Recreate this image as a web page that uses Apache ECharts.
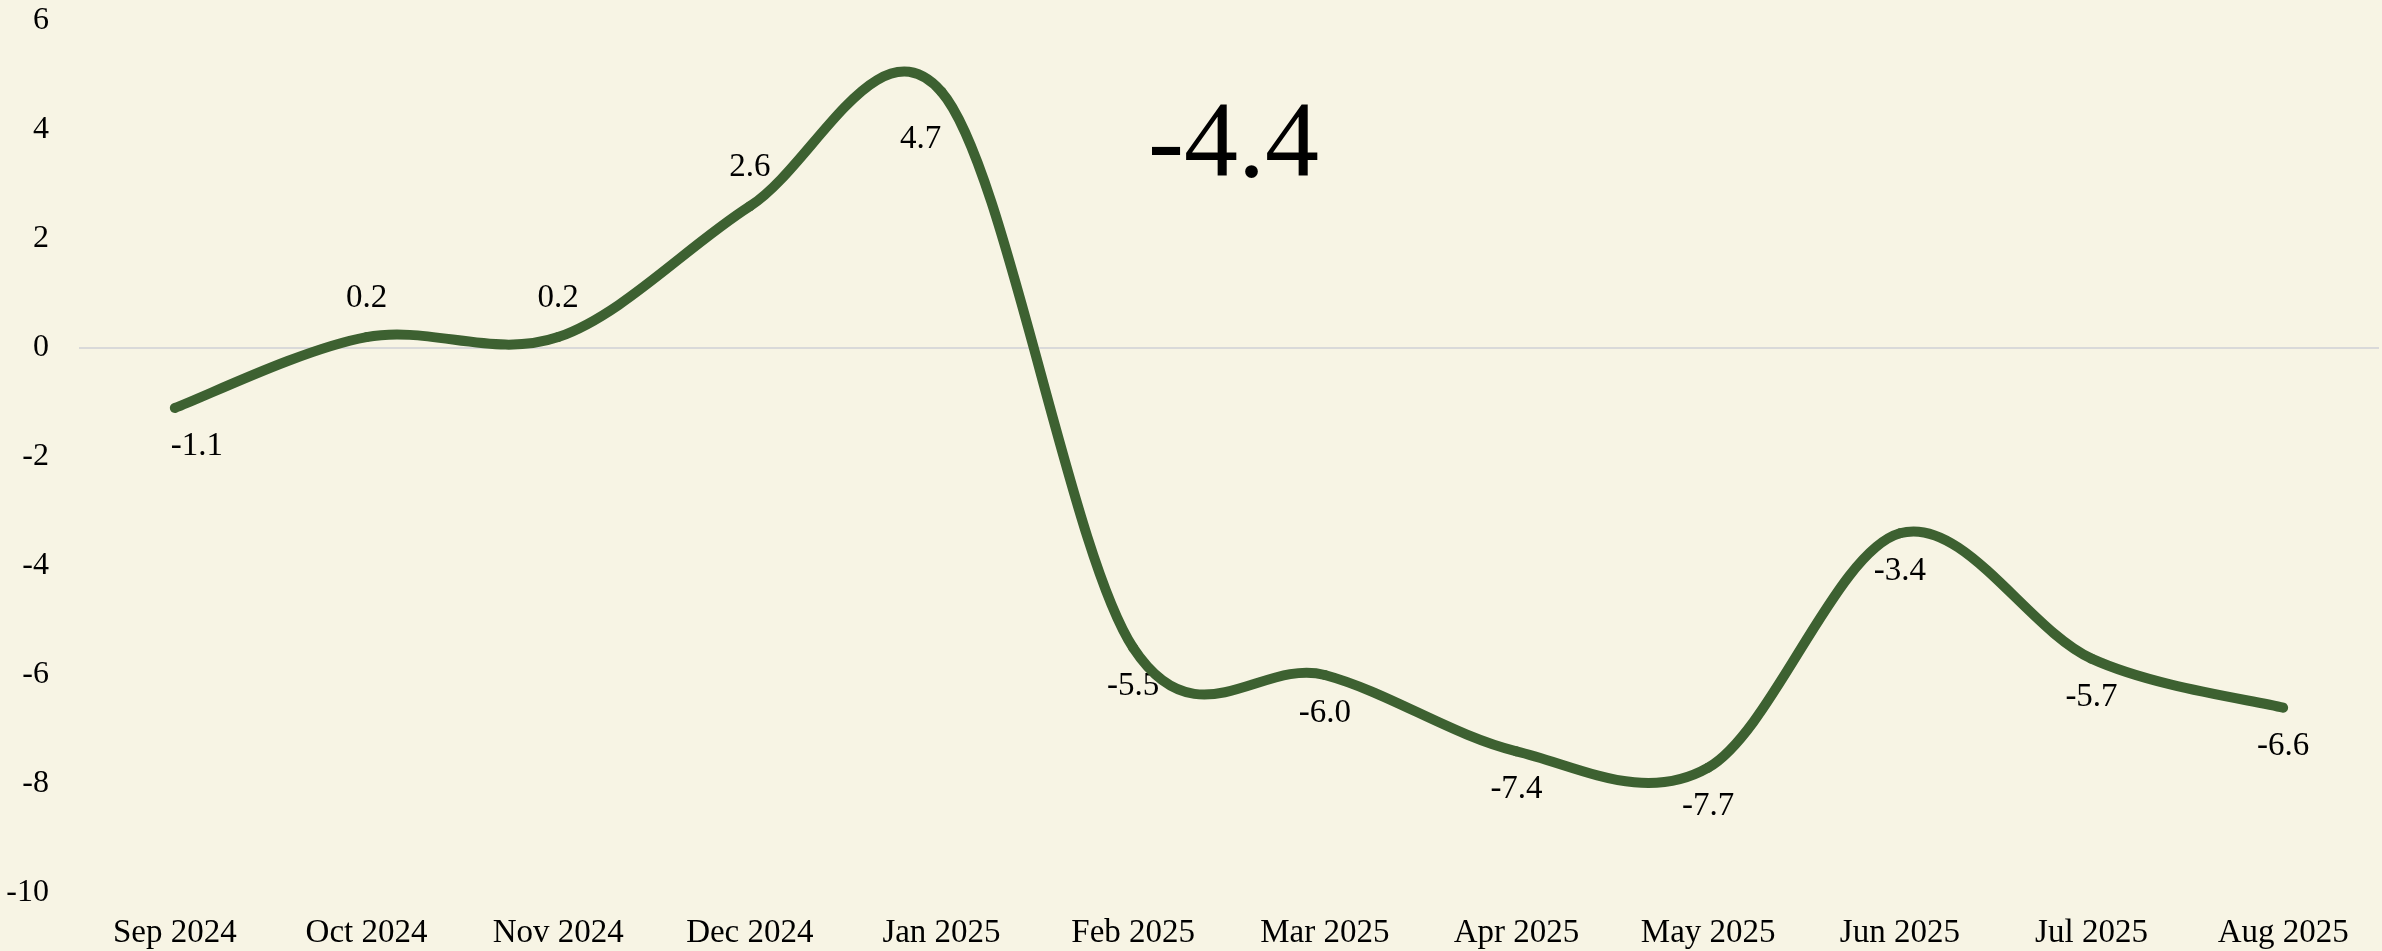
<!DOCTYPE html>
<html>
<head>
<meta charset="utf-8">
<script src="https://cdn.jsdelivr.net/npm/echarts@6/dist/echarts.min.js"></script>
<style>
  html, body { margin: 0; padding: 0; background: #f7f4e4; }
  #main { width: 2382px; height: 951px; }
</style>
</head>
<body>
<div id="main"></div>
<script>
// months on the x axis
const months = ['Sep 2024', 'Oct 2024', 'Nov 2024', 'Dec 2024', 'Jan 2025', 'Feb 2025',
  'Mar 2025', 'Apr 2025', 'May 2025', 'Jun 2025', 'Jul 2025', 'Aug 2025']
// monthly values
const values = [-1.1, 0.2, 0.2, 2.6, 4.7, -5.5, -6.0, -7.4, -7.7, -3.4, -5.7, -6.6]
// where each value label sits
const labelPos = ['bottom', 'top', 'top', 'top', 'bottom', 'bottom',
  'bottom', 'bottom', 'bottom', 'bottom', 'bottom', 'bottom']
// headline figure
const headline = '-4.4'

const serif = '"Liberation Serif", "DejaVu Serif", serif'
const green = '#3d6131'

// office-style smoothed curve: one bezier piece per pair of months
function renderSegment(params, api) {
  const i = params.dataIndex
  const n = values.length
  if (i >= n - 1) return null
  const pt = k => {
    const j = Math.min(Math.max(k, 0), n - 1)
    return api.coord([j, values[j]])
  }
  const p0 = pt(i - 1), p1 = pt(i), p2 = pt(i + 1), p3 = pt(i + 2)
  return {
    type: 'bezierCurve',
    shape: {
      x1: p1[0], y1: p1[1],
      cpx1: p1[0] + (p2[0] - p0[0]) / 6, cpy1: p1[1] + (p2[1] - p0[1]) / 6,
      cpx2: p2[0] - (p3[0] - p1[0]) / 6, cpy2: p2[1] - (p3[1] - p1[1]) / 6,
      x2: p2[0], y2: p2[1]
    },
    style: { stroke: green, lineWidth: 10, fill: null, lineCap: 'round' }
  }
}

let myChart = echarts.init(document.getElementById('main'))

myChart.setOption({
  backgroundColor: '#f7f4e4',
  animation: false,
  grid: { left: 79, right: 3, top: 21, bottom: 58 },
  xAxis: {
    type: 'category',
    data: months,
    boundaryGap: true,
    axisLine: { show: false },
    axisTick: { show: false },
    axisLabel: { color: '#000', fontFamily: serif, fontSize: 33, margin: 24 }
  },
  yAxis: {
    type: 'value',
    min: -10,
    max: 6,
    interval: 2,
    splitLine: { show: false },
    axisLine: { show: false },
    axisTick: { show: false },
    axisLabel: { color: '#000', fontFamily: serif, fontSize: 32, margin: 30 }
  },
  graphic: [{
    type: 'text',
    left: 1148,
    top: 94,
    style: { text: headline, fill: '#000', font: '108px ' + serif }
  }],
  series: [{
    type: 'custom',
    renderItem: renderSegment,
    data: values.map((v, i) => [i, v]),
    encode: { x: 0, y: 1 },
    silent: true,
    z: 4
  }, {
    type: 'line',
    showSymbol: true,
    symbol: 'circle',
    symbolSize: 2,
    itemStyle: { color: 'rgba(0,0,0,0)', borderWidth: 0 },
    lineStyle: { opacity: 0, width: 0 },
    data: values.map((v, i) => ({
      value: v,
      label: {
        position: labelPos[i],
        offset: i === 0 ? [22, 0] : i === 4 ? [-21, 9] : [0, 0]
      }
    })),
    label: {
      show: true,
      color: '#000',
      fontFamily: serif,
      fontSize: 33,
      distance: 21,
      formatter: p => p.value.toFixed(1)
    },
    markLine: {
      silent: true,
      z: 1,
      symbol: 'none',
      label: { show: false },
      lineStyle: { color: '#d9d9d9', width: 2, type: 'solid' },
      data: [{ yAxis: 0 }]
    },
    z: 3
  }]
})
</script>
</body>
</html>
